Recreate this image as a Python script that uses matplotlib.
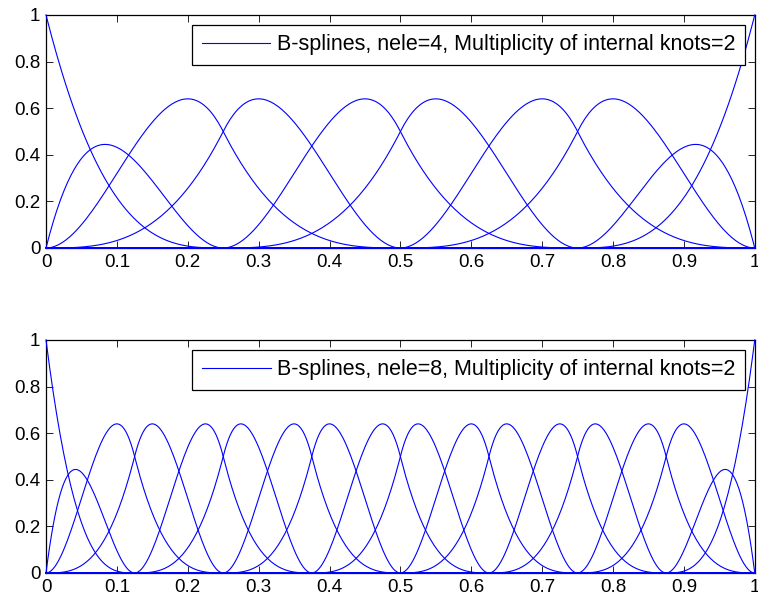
"""
Cubic B-spline basis functions with doubled internal knots
"""

import numpy as np
import matplotlib.pyplot as plt

plt.rcParams['font.family'] = ['Liberation Sans', 'DejaVu Sans']
plt.rcParams['font.size'] = 11

# chart data: spline degree, knot multiplicity and the two knot vectors
degree = 3
multiplicity = 2
nele_list = [4, 8]
knots_4 = [0, 0, 0, 0, 0.25, 0.25, 0.5, 0.5, 0.75, 0.75, 1, 1, 1, 1]
knots_8 = [0, 0, 0, 0,
           0.125, 0.125, 0.25, 0.25, 0.375, 0.375, 0.5, 0.5,
           0.625, 0.625, 0.75, 0.75, 0.875, 0.875,
           1, 1, 1, 1]
knot_sets = [knots_4, knots_8]
xticks = [0, 0.1, 0.2, 0.3, 0.4, 0.5, 0.6, 0.7, 0.8, 0.9, 1]
yticks = [0, 0.2, 0.4, 0.6, 0.8, 1]


def bspline_basis(knots, p, x):
    """
    Cox-de Boor recursion for all basis functions of degree p
    :param knots:   (list)      knot vector
    :param p:       (int)       degree
    :param x:       (array)     evaluation points
    """
    t = np.asarray(knots, dtype=float)
    n = len(t) - 1
    N = np.zeros((n, len(x)))
    for i in range(n):
        if t[i] < t[i + 1]:
            N[i] = (x >= t[i]) & (x < t[i + 1])
            # close the last non-empty span at the right end
            if t[i + 1] == t[-1]:
                N[i] = (x >= t[i]) & (x <= t[i + 1])
    for k in range(1, p + 1):
        Nk = np.zeros((n - k, len(x)))
        for i in range(n - k):
            a = t[i + k] - t[i]
            b = t[i + k + 1] - t[i + 1]
            if a > 0:
                Nk[i] += (x - t[i]) / a * N[i]
            if b > 0:
                Nk[i] += (t[i + k + 1] - x) / b * N[i + 1]
        N = Nk
    return N


x = np.linspace(0, 1, 401)

fig = plt.figure(figsize=(7.58, 6.06), dpi=100)
positions = [[0.0607, 0.5908, 0.935, 0.3845],
             [0.0607, 0.0545, 0.935, 0.3845]]

for pos, nele, knots in zip(positions, nele_list, knot_sets):
    ax = fig.add_axes(pos)
    basis = bspline_basis(knots, degree, x)
    for j, b in enumerate(basis):
        label = ('B-splines, nele=%d, Multiplicity of internal knots=%d'
                 % (nele, multiplicity)) if j == 0 else None
        ax.plot(x, b, color='#0000ff', linewidth=0.8, label=label,
                zorder=3, clip_on=False)
    ax.set_xlim(0, 1)
    ax.set_ylim(0, 1)
    ax.set_xticks(xticks)
    ax.set_xticklabels(['%g' % v for v in xticks])
    ax.set_yticks(yticks)
    ax.set_yticklabels(['%g' % v for v in yticks])
    ax.tick_params(direction='in', top=True, right=True, length=5,
                   width=0.6, labelsize=13.5, pad=4)
    for s in ax.spines.values():
        s.set_linewidth(0.9)
    leg = ax.legend(loc='upper right', fancybox=False, framealpha=1,
                    edgecolor='black', fontsize=15.5, handlelength=3.2,
                    handletextpad=0.3, borderaxespad=0.45, borderpad=0.45)
    leg.get_frame().set_linewidth(0.9)
    leg.set_zorder(5)

plt.savefig('out.png')
plt.close()
